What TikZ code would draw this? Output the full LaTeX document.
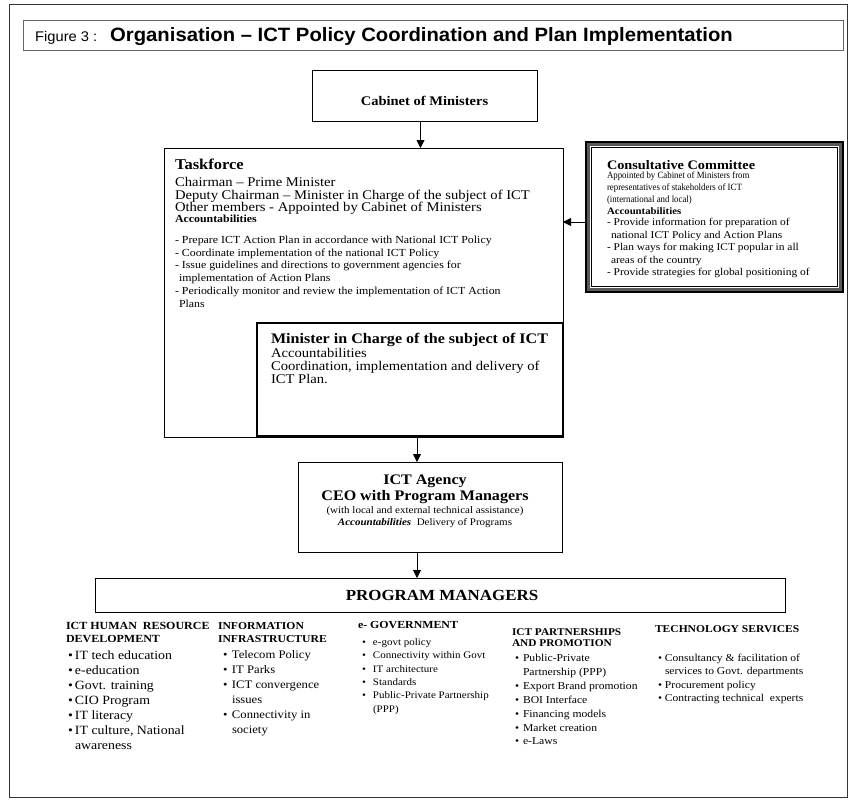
\documentclass[tikz,border=0pt]{standalone}
\usepackage{fontspec}
\setmainfont{Liberation Serif}[FakeStretch=1.1]
\newfontfamily\narrowf{Liberation Serif}[FakeStretch=0.92]
\newfontfamily\sansf{Liberation Sans}[FakeStretch=1.05]
\usetikzlibrary{arrows.meta,calc}
\newcommand{\fs}[2]{\fontsize{#1}{#2}\selectfont}
\newcommand{\bl}[1]{\makebox[#1][l]{\textbullet}}
\newcommand{\ind}[1]{\hspace*{#1}}
\begin{document}
\begin{tikzpicture}[x=1pt,y=-1pt,
  box/.style={draw, line width=0.8pt, anchor=north west, inner sep=0pt, outer sep=0pt},
  txt/.style={anchor=north west, inner sep=0pt, outer sep=0pt, align=left},
  ctxt/.style={anchor=north, inner sep=0pt, outer sep=0pt, align=center},
  arr/.style={line width=0.8pt, -{Triangle[length=8pt,width=8pt]}}]
\useasboundingbox[fill=white] (0,0) rectangle (852,803);
% outer frame and title
\draw[line width=1pt, black!80] (9,4) rectangle (847,797);
\node[box, draw=black!60, minimum width=820pt, minimum height=30pt] (tbox) at (23,20) {};
\node[anchor=base west, inner sep=0pt, font=\sansf\fs{14}{16}] (fig) at (35,41) {Figure 3 :};
\node[anchor=base west, inner sep=0pt, font=\sansf\bfseries\fs{19.3}{21}] (ttl) at (110,41) {Organisation – ICT Policy Coordination and Plan Implementation};
% cabinet
\node[box, minimum width=225pt, minimum height=51pt] (cab) at (312,70) {};
\node[inner sep=0pt, font=\bfseries\fs{13.2}{15}] (cabt) at (424.5,101) {Cabinet of Ministers};
% taskforce
\node[box, minimum width=399pt, minimum height=289pt] (tf) at (164,148) {};
\node[txt, font=\bfseries\fs{15}{17}] (tft) at (175,158.8) {Taskforce};
\node[txt, font=\fs{13.3}{12.6}] (tfm) at (175,177.2) {Chairman – Prime Minister\\Deputy Chairman – Minister in Charge of the subject of ICT\\Other members - Appointed by Cabinet of Ministers};
\node[txt, font=\bfseries\fs{10.8}{12}] (tfa) at (175,215.1) {Accountabilities};
\node[txt, font=\fs{10.8}{12.7}] (tfi) at (175,236.1) {- Prepare ICT Action Plan in accordance with National ICT Policy\\- Coordinate implementation of the national ICT Policy\\- Issue guidelines and directions to government agencies for\\\ind{4pt}implementation of Action Plans\\- Periodically monitor and review the implementation of ICT Action\\\ind{4pt}Plans};
% minister
\node[box, line width=2pt, minimum width=306pt, minimum height=113pt] (min) at (257,323) {};
\node[txt, font=\bfseries\fs{14.6}{16}] (mint) at (271,333.7) {Minister in Charge of the subject of ICT};
\node[txt, font=\fs{13.3}{13.2}] (minb) at (271,348.2) {Accountabilities\\Coordination, implementation and delivery of\\ICT Plan.};
% consultative committee
\node[box, line width=1.2pt, minimum width=257pt, minimum height=150pt] (cc) at (586,142) {};
\draw[line width=2.4pt, black!65] ($(cc.north west)+(2.6,2.6)$) rectangle ($(cc.south east)+(-2.6,-2.6)$);
\draw[line width=0.8pt] ($(cc.north west)+(5.5,5.5)$) rectangle ($(cc.south east)+(-5.5,-5.5)$);
\node[txt, font=\bfseries\fs{13}{15}] (cct) at (607,160.3) {Consultative Committee};
\node[txt, font=\narrowf\fs{9.6}{12.3}] (ccb) at (607,171.5) {Appointed by Cabinet of Ministers from\\representatives of stakeholders of ICT\\(international and local)};
\node[txt, font=\bfseries\fs{9.8}{11}] (cca) at (607,207.4) {Accountabilities};
\node[txt, font=\fs{10.4}{12.5}] (cci) at (607,218.2) {- Provide information for preparation of\\\ind{4pt}national ICT Policy and Action Plans\\- Plan ways for making ICT popular in all\\\ind{4pt}areas of the country\\- Provide strategies for global positioning of};
% ICT agency
\node[box, minimum width=264pt, minimum height=90pt] (ag) at (298,462) {};
\node[ctxt, font=\bfseries\fs{14.6}{16}] (ag1) at (425,474.7) {ICT Agency\\CEO with Program Managers};
\node[ctxt, font=\fs{10}{12}] (ag2) at (425,506.2) {(with local and external technical assistance)\\\textbf{\textit{Accountabilities}}\ \ Delivery of Programs};
% program managers
\node[box, minimum width=690pt, minimum height=34pt] (pm) at (95,578) {};
\node[inner sep=0pt, font=\bfseries\fs{15.4}{17}] (pmt) at (442,595) {PROGRAM MANAGERS};
% columns
\node[txt, font=\bfseries\fs{10.9}{13}] (h1) at (66,622) {ICT HUMAN\ \ RESOURCE\\DEVELOPMENT};
\node[txt, font=\fs{12.6}{15}] (c1) at (68,650.5) {\bl{7pt}IT tech education\\\bl{7pt}e-education\\\bl{7pt}Govt. training\\\bl{7pt}CIO Program\\\bl{7pt}IT literacy\\\bl{7pt}IT culture, National\\\ind{7pt}awareness};
\node[txt, font=\bfseries\fs{10.6}{13}] (h2) at (218,622) {INFORMATION\\INFRASTRUCTURE};
\node[txt, font=\fs{11.5}{15}] (c2) at (223,650.8) {\bl{9pt}Telecom Policy\\\bl{9pt}IT Parks\\\bl{9pt}ICT convergence\\\ind{9pt}issues\\\bl{9pt}Connectivity in\\\ind{9pt}society};
\node[txt, font=\bfseries\fs{10.8}{13}] (h3) at (358,621) {e- GOVERNMENT};
\node[txt, font=\fs{10}{13.4}] (c3) at (362,638.4) {\bl{11pt}e-govt policy\\\bl{11pt}Connectivity within Govt\\\bl{11pt}IT architecture\\\bl{11pt}Standards\\\bl{11pt}Public-Private Partnership\\\ind{11pt}(PPP)};
\node[txt, font=\bfseries\fs{10.3}{11.5}] (h4) at (512,628.3) {ICT PARTNERSHIPS\\AND PROMOTION};
\node[txt, font=\fs{10.6}{13.9}] (c4) at (515,654.2) {\bl{8pt}Public-Private\\\ind{8pt}Partnership (PPP)\\\bl{8pt}Export Brand promotion\\\bl{8pt}BOI Interface\\\bl{8pt}Financing models\\\bl{8pt}Market creation\\\bl{8pt}e-Laws};
\node[txt, font=\bfseries\fs{10.5}{12}] (h5) at (655,625.2) {TECHNOLOGY SERVICES};
\node[txt, font=\fs{10.5}{13.3}] (c5) at (658,654.2) {\bl{7pt}Consultancy \& facilitation of\\\ind{7pt}services to Govt. departments\\\bl{7pt}Procurement policy\\\bl{7pt}Contracting technical\ \ experts};
% connectors
\draw[arr] ([xshift=-4pt]cab.south) -- ([xshift=-4pt]cab.south |- tf.north);
\draw[arr] ([yshift=-5pt]cc.west) -- ([yshift=-5pt]cc.west -| tf.east);
\draw[arr] ([xshift=7pt]min.south) -- ([xshift=7pt]min.south |- ag.north);
\draw[arr] ([xshift=-13pt]ag.south) -- ([xshift=-13pt]ag.south |- pm.north);
\end{tikzpicture}
\end{document}
